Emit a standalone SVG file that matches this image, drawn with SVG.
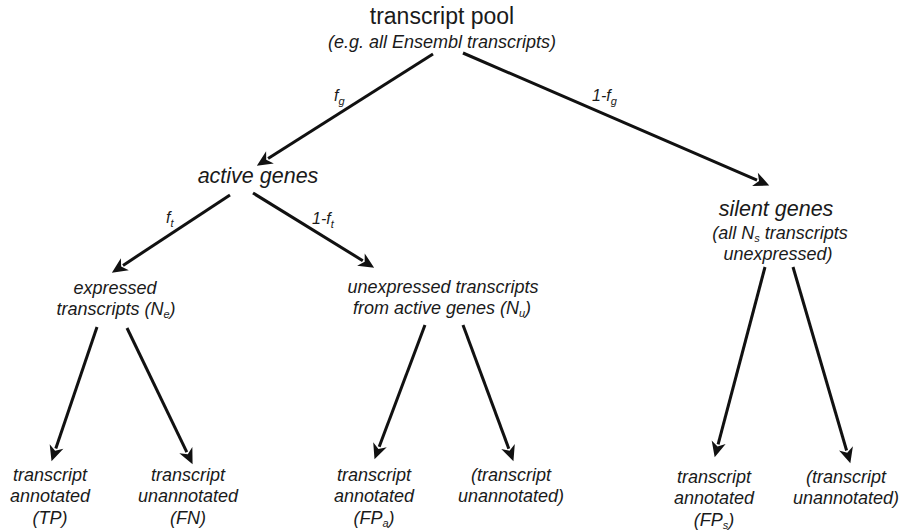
<svg xmlns="http://www.w3.org/2000/svg" width="901" height="532" viewBox="0 0 901 532">
<defs>
<marker id="ah" markerUnits="userSpaceOnUse" markerWidth="20" markerHeight="20" viewBox="-4 -8 18 16" refX="0" refY="0" orient="auto">
<path d="M12,0 L-2,-6.5 L2,0 L-2,6.5 Z" fill="#111"/>
</marker>
<style>
text{font-family:"Liberation Sans",Arial,sans-serif;fill:#1a1a1a;text-anchor:middle}
.it{font-style:italic}
.big{font-size:23px}
.gene{font-size:21.5px;font-style:italic}
.lab{font-size:18px;font-style:italic}
.edge{font-size:16px;font-style:italic;text-anchor:start}
.sub{font-size:11px}
.conn line{stroke:#111;stroke-width:3;marker-end:url(#ah)}
</style>
</defs>
<rect width="901" height="532" fill="#fff"/>
<g class="conn" id="connectors">
<line x1="433" y1="54" x2="268.1" y2="158.6"/>
<line x1="463" y1="53" x2="757" y2="180.2"/>
<line x1="230" y1="195" x2="123" y2="265.4"/>
<line x1="253" y1="193" x2="362.8" y2="260.7"/>
<line x1="97" y1="327" x2="55.8" y2="448.6"/>
<line x1="127" y1="328" x2="186.8" y2="452.2"/>
<line x1="425" y1="325" x2="379.2" y2="446.8"/>
<line x1="463" y1="325" x2="508.8" y2="448.7"/>
<line x1="765" y1="267" x2="718.1" y2="444.4"/>
<line x1="793" y1="267" x2="846.6" y2="450.5"/>
<text class="edge" x="334" y="101">f<tspan class="sub" dy="4">g</tspan></text>
<text class="edge" x="592" y="101">1-f<tspan class="sub" dy="4">g</tspan></text>
<text class="edge" x="166" y="223">f<tspan class="sub" dy="4">t</tspan></text>
<text class="edge" x="312" y="224">1-f<tspan class="sub" dy="4">t</tspan></text>
</g>
<g id="pool">
<text class="big" x="442" y="24">transcript pool</text>
<text class="lab" x="442" y="48">(e.g. all Ensembl transcripts)</text>
</g>
<g id="active">
<text class="gene" x="258" y="183">active genes</text>
</g>
<g id="silent">
<text class="gene" x="776" y="216">silent genes</text>
<text class="lab" x="780" y="239">(all N<tspan class="sub" dy="3">s</tspan><tspan dy="-3"> transcripts</tspan></text>
<text class="lab" x="778" y="260">unexpressed)</text>
</g>
<g id="expressed">
<text class="lab" x="115" y="294">expressed</text>
<text class="lab" x="116" y="315">transcripts (N<tspan class="sub" dy="3">e</tspan><tspan dy="-3">)</tspan></text>
</g>
<g id="unexpressed">
<text class="lab" x="443" y="293">unexpressed transcripts</text>
<text class="lab" x="442" y="314">from active genes (N<tspan class="sub" dy="3">u</tspan><tspan dy="-3">)</tspan></text>
</g>
<g id="tp">
<text class="lab" x="50" y="481">transcript</text>
<text class="lab" x="50" y="502">annotated</text>
<text class="lab" x="50" y="524">(TP)</text>
</g>
<g id="fn">
<text class="lab" x="188" y="481">transcript</text>
<text class="lab" x="188" y="502">unannotated</text>
<text class="lab" x="188" y="524">(FN)</text>
</g>
<g id="fpa">
<text class="lab" x="374" y="481">transcript</text>
<text class="lab" x="374" y="502">annotated</text>
<text class="lab" x="374" y="524">(FP<tspan class="sub" dy="3">a</tspan><tspan dy="-3">)</tspan></text>
</g>
<g id="unann-a">
<text class="lab" x="511" y="481">(transcript</text>
<text class="lab" x="511" y="502">unannotated)</text>
</g>
<g id="fps">
<text class="lab" x="714" y="483">transcript</text>
<text class="lab" x="714" y="504">annotated</text>
<text class="lab" x="714" y="526">(FP<tspan class="sub" dy="3">s</tspan><tspan dy="-3">)</tspan></text>
</g>
<g id="unann-s">
<text class="lab" x="846" y="483">(transcript</text>
<text class="lab" x="846" y="504">unannotated)</text>
</g>
</svg>
